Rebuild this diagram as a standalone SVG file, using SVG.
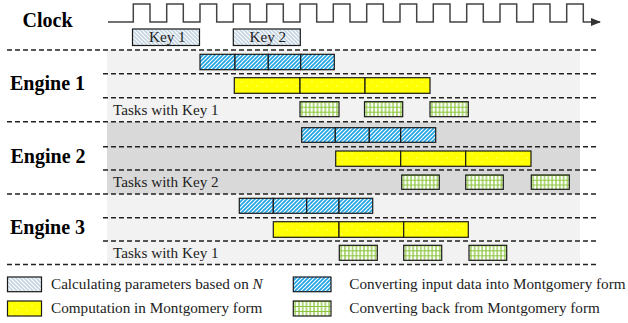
<svg xmlns="http://www.w3.org/2000/svg" width="628" height="323" viewBox="0 0 628 323">
  <defs>
    <!-- light blue-grey hatch: parameter calculation -->
    <pattern id="pLight" patternUnits="userSpaceOnUse" width="4" height="4">
      <rect width="4" height="4" fill="#c6d5e4"/>
      <path d="M-1,-1 L5,5 M-1,3 L1,5 M3,-1 L5,1" stroke="#ffffff" stroke-width="1.1"/>
    </pattern>
    <!-- bright blue hatch: converting input -->
    <pattern id="pBlue" patternUnits="userSpaceOnUse" width="4" height="4">
      <rect width="4" height="4" fill="#1ea3e3"/>
      <path d="M-1,5 L5,-1 M-1,1 L1,-1 M3,5 L5,3" stroke="#ffffff" stroke-width="1.2"/>
    </pattern>
    <!-- yellow with sparse white dots: Montgomery computation -->
    <pattern id="pYellow" patternUnits="userSpaceOnUse" width="10" height="8">
      <rect width="10" height="8" fill="#ffff00"/>
      <circle cx="2" cy="2" r="0.55" fill="#ffffff"/>
      <circle cx="7" cy="6" r="0.55" fill="#ffffff"/>
    </pattern>
    <!-- green grid, three rows per box: converting back -->
    <pattern id="pGreen" patternUnits="objectBoundingBox" x="0" y="0" width="0.1" height="0.33333">
      <rect width="5" height="6" fill="#ffffff"/>
      <path d="M1.9,0 V6 M0,0.3 H5" stroke="#8cc63f" stroke-width="1.3"/>
    </pattern>
    <marker id="arrow" markerWidth="10" markerHeight="8" refX="9" refY="4" orient="auto" markerUnits="userSpaceOnUse">
      <path d="M0,0 L10,4 L0,8 Z" fill="#333333"/>
    </marker>
  </defs>
  <style>
    .lbl { font-family: "Liberation Serif", "Times New Roman", serif; font-weight: bold; font-size: 20px; fill: #000; }
    .txt { font-family: "Liberation Serif", "Times New Roman", serif; font-size: 15.2px; fill: #222; }
    .sep { stroke: #222; stroke-width: 1.4; stroke-dasharray: 5 3; fill: none; }
    .box { stroke: #1a1a1a; stroke-width: 1.2; }
    .light { fill: url(#pLight); }
    .blue { fill: url(#pBlue); }
    .yellow { fill: url(#pYellow); }
    .green { fill: url(#pGreen); }
  </style>

  <rect width="628" height="323" fill="#ffffff"/>

  <!-- engine background bands -->
  <rect x="107" y="50" width="473" height="72" fill="#f2f2f2"/>
  <rect x="107" y="122" width="473" height="72" fill="#d9d9d9"/>
  <rect x="107" y="194" width="473" height="70.5" fill="#f2f2f2"/>

  <!-- clock signal -->
  <g id="clock">
    <text class="lbl" x="22.5" y="26.7">Clock</text>
    <path d="M108 22H133.3V4H150V22H166.7V4H183.3V22H200V4H216.7V22H233.3V4H250V22H266.7V4H283.3V22H300V4H316.7V22H333.3V4H350V22H366.7V4H383.3V22H400V4H416.7V22H433.3V4H450V22H466.7V4H483.3V22H500V4H516.7V22H533.3V4H550V22H566.7V4H583.3V22H600" fill="none" stroke="#444444" stroke-width="1.5" marker-end="url(#arrow)"/>
  </g>

  <g id="key1">
    <rect class="box light" x="132.5" y="29" width="67" height="16.5"/>
    <text class="txt" x="149" y="42.3">Key 1</text>
  </g>
  <g id="key2">
    <rect class="box light" x="233.3" y="29" width="67" height="16.5"/>
    <text class="txt" x="249.5" y="42.3">Key 2</text>
  </g>

  <!-- row separators -->
  <g id="separators">
    <path class="sep" d="M7 50H598M103 73.8H598M103 97.7H598M7 121.7H598M103 146.7H598M103 170H598M7 194H598M103 217.7H598M103 241H598M7 264.5H598"/>
  </g>

  <g id="engine1">
    <text class="lbl" x="10" y="90">Engine 1</text>
    <text class="txt" x="113" y="115.3">Tasks with Key 1</text>
    <g id="e1-convert">
      <rect class="box blue" x="200" y="54.3" width="35" height="15.4"/>
      <rect class="box blue" x="235" y="54.3" width="33.3" height="15.4"/>
      <rect class="box blue" x="268.3" y="54.3" width="32.4" height="15.4"/>
      <rect class="box blue" x="300.7" y="54.3" width="33.6" height="15.4"/>
    </g>
    <g id="e1-compute">
      <rect class="box yellow" x="234.3" y="77.7" width="65.7" height="15.6"/>
      <rect class="box yellow" x="300" y="77.7" width="65" height="15.6"/>
      <rect class="box yellow" x="365" y="77.7" width="65" height="15.6"/>
    </g>
    <g id="e1-back">
      <rect class="box green" x="300" y="101.7" width="39" height="15"/>
      <rect class="box green" x="364.5" y="101.7" width="38.2" height="15"/>
      <rect class="box green" x="430" y="101.7" width="38.3" height="15"/>
    </g>
  </g>

  <g id="engine2">
    <text class="lbl" x="10.5" y="163.3">Engine 2</text>
    <text class="txt" x="113" y="187.3">Tasks with Key 2</text>
    <g id="e2-convert">
      <rect class="box blue" x="301.7" y="127.7" width="33.6" height="14.6"/>
      <rect class="box blue" x="335.3" y="127.7" width="34" height="14.6"/>
      <rect class="box blue" x="369.3" y="127.7" width="31.4" height="14.6"/>
      <rect class="box blue" x="400.7" y="127.7" width="35" height="14.6"/>
    </g>
    <g id="e2-compute">
      <rect class="box yellow" x="335.7" y="151" width="65" height="15.3"/>
      <rect class="box yellow" x="400.7" y="151" width="65" height="15.3"/>
      <rect class="box yellow" x="465.7" y="151" width="65.3" height="15.3"/>
    </g>
    <g id="e2-back">
      <rect class="box green" x="401.7" y="175" width="37.6" height="14.3"/>
      <rect class="box green" x="465.7" y="175" width="37.6" height="14.3"/>
      <rect class="box green" x="531.3" y="175" width="38" height="14.3"/>
    </g>
  </g>

  <g id="engine3">
    <text class="lbl" x="10" y="234.3">Engine 3</text>
    <text class="txt" x="113" y="257.7">Tasks with Key 1</text>
    <g id="e3-convert">
      <rect class="box blue" x="239.3" y="198.3" width="34" height="15"/>
      <rect class="box blue" x="273.3" y="198.3" width="33.4" height="15"/>
      <rect class="box blue" x="306.7" y="198.3" width="32.3" height="15"/>
      <rect class="box blue" x="339" y="198.3" width="33.7" height="15"/>
    </g>
    <g id="e3-compute">
      <rect class="box yellow" x="273.3" y="221.7" width="65.7" height="15.6"/>
      <rect class="box yellow" x="339" y="221.7" width="64.7" height="15.6"/>
      <rect class="box yellow" x="403.7" y="221.7" width="64.6" height="15.6"/>
    </g>
    <g id="e3-back">
      <rect class="box green" x="339.3" y="245.3" width="38" height="15"/>
      <rect class="box green" x="403.7" y="245.3" width="38" height="15"/>
      <rect class="box green" x="469" y="245.3" width="37.7" height="15"/>
    </g>
  </g>

  <g id="legend">
    <rect class="box light" x="7.5" y="277" width="34" height="14.7"/>
    <text class="txt" x="51" y="289">Calculating parameters based on <tspan font-style="italic">N</tspan></text>
    <rect class="box yellow" x="7.5" y="301" width="34" height="15"/>
    <text class="txt" x="51" y="312.7">Computation in Montgomery form</text>
    <rect class="box blue" x="293.3" y="277" width="37.7" height="14.7"/>
    <text class="txt" x="349.3" y="289">Converting input data into Montgomery form</text>
    <rect class="box green" x="293.3" y="301" width="37.7" height="15"/>
    <text class="txt" x="349.3" y="312.7">Converting back from Montgomery form</text>
  </g>
</svg>
